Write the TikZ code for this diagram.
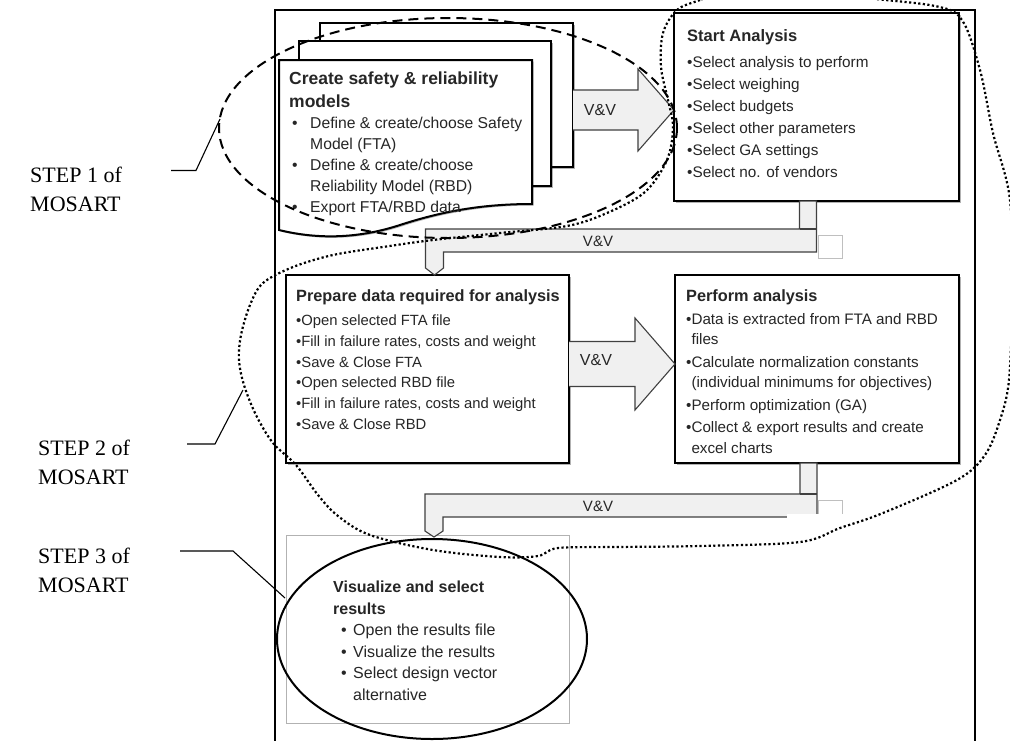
\documentclass[tikz,border=0pt]{standalone}
\usepackage{fontspec}
\setmainfont{Liberation Serif}
\newfontfamily\arialf{Liberation Sans}
\usetikzlibrary{calc,shadows,shapes.geometric}
\begin{document}
\begin{tikzpicture}[x=1pt,y=-1pt,
  boxst/.style={draw=black, line width=2pt, fill=white, rectangle, inner sep=0pt, outer sep=0pt, anchor=north west},
  shad/.style={drop shadow={shadow xshift=1.5pt, shadow yshift=-1.5pt, opacity=0.3, fill=black}},
  vvarrow/.style={draw=black!75, line width=1.1pt, fill=black!6, line join=miter},
  vvlabel/.style={font=\arialf\fontsize{15}{15}\selectfont, text=black!85, inner sep=0pt},
  bodytxt/.style={font=\arialf\fontsize{15}{21}\selectfont, text=black!85, align=left, anchor=north west, inner sep=0pt},
  steplbl/.style={font=\fontsize{22}{28.4}\selectfont, align=left, anchor=north west, inner sep=0pt},
  leader/.style={line width=1.1pt}
]
\useasboundingbox (0,0) rectangle (1010,740);
\fill[white] (0,0) rectangle (1010,740);

% outer frame
\draw[line width=1.8pt] (275,760) -- (275,10) -- (975,10) -- (975,760);

% stacked document sheets
\node[boxst, shad, minimum width=253pt, minimum height=144pt] (sheetc) at (320,23) {};
\node[boxst, shad, minimum width=252pt, minimum height=145pt] (sheetb) at (299,41) {};
\draw[line width=2pt, fill=white, shad] (279,60) -- (532,60) -- (532,204)
  .. controls (480,204) and (440,212) .. (400,225)
  .. controls (360,238) and (320,240) .. (279,230) -- cycle;
\node[bodytxt, font=\arialf\fontsize{15.7}{21}\selectfont] (ttA) at (289,72) {%
{\fontsize{17.5}{23}\selectfont\bfseries Create safety \& reliability}\\[2pt]
{\fontsize{17.5}{23}\selectfont\bfseries models}\\[-0.7pt]
\hspace*{3pt}\makebox[18pt][l]{•}Define \& create/choose Safety\\
\hspace*{21pt}Model (FTA)\\
\hspace*{3pt}\makebox[18pt][l]{•}Define \& create/choose\\
\hspace*{21pt}Reliability Model (RBD)\\
\hspace*{3pt}\makebox[18pt][l]{•}Export FTA/RBD data};

% main boxes
\node[boxst, shad, minimum width=285pt, minimum height=188pt] (start) at (674,13) {};
\node[boxst, shad, minimum width=283pt, minimum height=188pt] (prep) at (286,275) {};
\node[boxst, shad, minimum width=284pt, minimum height=188pt] (perf) at (675,275) {};

\node[bodytxt, font=\arialf\fontsize{15.3}{22}\selectfont] (ttS) at (687,29) {%
{\fontsize{16.5}{22}\selectfont\bfseries Start Analysis}\\[4.4pt]
•Select analysis to perform\\
•Select weighing\\
•Select budgets\\
•Select other parameters\\
•Select GA settings\\
•Select no. of vendors};

\node[bodytxt, font=\arialf\fontsize{14.8}{20.8}\selectfont] (ttP) at (296,289) {%
{\fontsize{16.3}{20.8}\selectfont\bfseries Prepare data required for analysis}\\[3.6pt]
•Open selected FTA file\\
•Fill in failure rates, costs and weight\\
•Save \& Close FTA\\
•Open selected RBD file\\
•Fill in failure rates, costs and weight\\
•Save \& Close RBD};

\node[bodytxt, font=\arialf\fontsize{15.2}{20.5}\selectfont] (ttF) at (686,289) {%
{\fontsize{16.3}{20.5}\selectfont\bfseries Perform analysis}\\[2.9pt]
•Data is extracted from FTA and RBD\\
\phantom{•}files\\[2pt]
•Calculate normalization constants\\
\phantom{•}(individual minimums  for objectives)\\[2pt]
•Perform optimization (GA)\\[2pt]
•Collect \& export results  and create\\
\phantom{•}excel charts};

% step 3 box and ellipse
\node[boxst, draw=black!30, line width=0.8pt, minimum width=283pt, minimum height=188pt] (visrect) at (286,535) {};
\node[draw, ellipse, line width=2pt, minimum width=310pt, minimum height=200pt, inner sep=0pt] (vis) at (432,639) {};
\node[bodytxt, font=\arialf\fontsize{16}{21.5}\selectfont] (ttV) at (333,581) {%
{\bfseries Visualize and select}\\
{\bfseries results}\\
\hspace*{8pt}\makebox[12pt][l]{•}Open the results file\\
\hspace*{8pt}\makebox[12pt][l]{•}Visualize the results\\
\hspace*{8pt}\makebox[12pt][l]{•}Select design vector\\
\hspace*{20pt}alternative};

% V&V block arrows
\coordinate (t1) at ($(start.west)+(0,3)$);
\coordinate (s1) at (sheetc.east |- t1);
\draw[vvarrow] ($(s1)+(0,-20)$) -- ($(t1)+(-36,-20)$) -- ($(t1)+(-36,-41)$) -- (t1)
  -- ($(t1)+(-36,41)$) -- ($(t1)+(-36,20)$) -- ($(s1)+(0,20)$);
\node[vvlabel, font=\arialf\fontsize{16}{16}\selectfont] (vv1) at ($(s1)+(27,0)$) {V\&V};

\coordinate (t2) at ($(perf.west)+(0,-5)$);
\coordinate (s2) at (prep.east |- t2);
\draw[vvarrow] ($(s2)+(0,-22.5)$) -- ($(t2)+(-40,-22.5)$) -- ($(t2)+(-40,-46)$) -- (t2)
  -- ($(t2)+(-40,46)$) -- ($(t2)+(-40,22.5)$) -- ($(s2)+(0,22.5)$);
\node[vvlabel, font=\arialf\fontsize{16}{16}\selectfont] (vv2) at ($(s2)+(27,-4)$) {V\&V};

% elbow V&V connectors
\draw[black!25, line width=0.8pt] (818,235) rectangle (842,258);
\coordinate (e1s) at (start.south);
\coordinate (e1t) at ($(prep.north)+(7,0)$);
\draw[vvarrow] ($(e1s)+(-17,0)$) -- (e1s) -- ($(e1s)+(0,51)$) -- ($(e1t)+(9,-23)$)
  -- ($(e1t)+(9,-7)$) -- (e1t) -- ($(e1t)+(-9,-7)$) -- ($(e1t)+(-9,-46)$)
  -- ($(e1s)+(-17,28)$) -- cycle;
\draw[black!75, line width=1.1pt] ($(e1s)+(-17,28)$) -- ($(e1s)+(0,28)$);
\node[vvlabel] (vv3) at (598,241) {V\&V};

\draw[black!25, line width=0.8pt] (818,500) rectangle (842,525);
\coordinate (e2s) at (perf.south);
\coordinate (e2t) at ($(vis.north)+(2,-1)$);
\draw[vvarrow] ($(e2s)+(-17,0)$) -- (e2s) -- ($(e2s)+(0,54)$) -- ($(e2t)+(9,-20)$)
  -- ($(e2t)+(9,-6)$) -- (e2t) -- ($(e2t)+(-9,-6)$) -- ($(e2t)+(-9,-43)$)
  -- ($(e2s)+(-17,31)$) -- cycle;
\draw[black!75, line width=1.1pt] ($(e2s)+(-17,31)$) -- ($(e2s)+(0,31)$);
\node[vvlabel] (vv4) at (598,506) {V\&V};
\fill[white] (787,513.6) rectangle (852,532);

% step 1 dashed ellipse
\draw[dash pattern=on 10pt off 6pt, line width=2pt] (448,128) ellipse [x radius=229, y radius=110];

% step 2 dotted blob
\draw[line width=2.2pt, dash pattern=on 2.2pt off 2.4pt] plot[smooth cycle, tension=0.55] coordinates {
 (735,-12) (700,0) (677,10) (663,33) (661,67) (668,100) (673,127) (667,160) (645,192)
 (607,213) (567,226) (500,233) (433,240) (383,247) (333,255) (293,267) (263,283)
 (250,305) (241,335) (239,360) (244,385) (256,415) (273,443) (296,465) (318,495)
 (338,516) (370,535) (433,550) (500,557) (538,556) (558,548) (617,547) (700,546)
 (800,542) (840,528) (883,513) (957,480) (985,455) (1000,420) (1009,380) (1012,300)
 (1010,200) (993,133) (980,70) (962,20) (935,6) (860,-3) (800,-15)};

% step labels and leaders
\node[steplbl] (st1) at (30,167) {STEP 1 of\\MOSART};
\node[steplbl] (st2) at (38,440) {STEP 2 of\\MOSART};
\node[steplbl] (st3) at (38,548) {STEP 3 of\\MOSART};
\coordinate (l1) at (220,119);
\coordinate (l2) at (243,390);
\coordinate (l3) at (285,598);
\draw[leader] (171,170.5) -- (196,170.5) -- (l1);
\draw[leader] (187,444) -- (215,444) -- (l2);
\draw[leader] (180,551) -- (233,551) -- (l3);
\end{tikzpicture}
\end{document}
